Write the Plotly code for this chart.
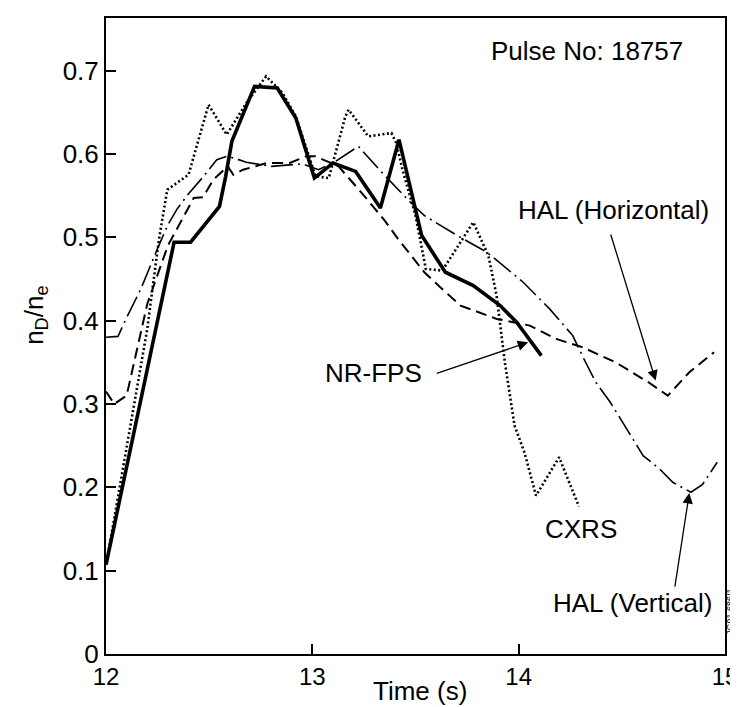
import plotly.graph_objects as go

# ---- data ----
t_nrfps = [12.0, 12.33, 12.41, 12.55, 12.58, 12.61, 12.72, 12.83, 12.92, 13.01, 13.10, 13.21, 13.33, 13.42, 13.53, 13.645, 13.78, 13.91, 13.99, 14.11]
v_nrfps = [0.107, 0.494, 0.494, 0.537, 0.573, 0.615, 0.681, 0.679, 0.643, 0.571, 0.589, 0.579, 0.535, 0.617, 0.502, 0.458, 0.442, 0.418, 0.398, 0.358]

t_cxrs = [12.01, 12.2, 12.257, 12.297, 12.40, 12.497, 12.585, 12.68, 12.776, 12.856, 12.92, 13.016, 13.08, 13.16, 13.176, 13.271, 13.383, 13.407, 13.437, 13.5, 13.55, 13.63, 13.78, 13.853, 13.893, 13.933, 13.98, 14.028, 14.084, 14.196, 14.292]
v_cxrs = [0.12, 0.39, 0.498, 0.557, 0.575, 0.659, 0.623, 0.661, 0.693, 0.673, 0.645, 0.573, 0.571, 0.645, 0.653, 0.621, 0.625, 0.613, 0.581, 0.526, 0.462, 0.46, 0.518, 0.478, 0.43, 0.35, 0.274, 0.242, 0.19, 0.236, 0.177]

t_halh = [12.0, 12.04, 12.1, 12.2, 12.3, 12.36, 12.425, 12.47, 12.52, 12.59, 12.617, 12.664, 12.78, 12.89, 12.97, 13.016, 13.127, 13.24, 13.351, 13.415, 13.543, 13.62, 13.718, 13.894, 14.054, 14.182, 14.31, 14.469, 14.629, 14.723, 14.827, 14.947]
v_halh = [0.315, 0.30, 0.31, 0.42, 0.49, 0.517, 0.547, 0.548, 0.569, 0.585, 0.575, 0.581, 0.589, 0.589, 0.597, 0.597, 0.585, 0.553, 0.52, 0.498, 0.458, 0.44, 0.418, 0.402, 0.394, 0.378, 0.368, 0.35, 0.326, 0.31, 0.338, 0.362]

t_halv = [12.0, 12.058, 12.097, 12.169, 12.249, 12.3, 12.345, 12.393, 12.473, 12.537, 12.585, 12.62, 12.68, 12.8, 12.95, 13.03, 13.1, 13.223, 13.351, 13.479, 13.543, 13.702, 13.846, 14.022, 14.15, 14.262, 14.316, 14.374, 14.444, 14.556, 14.603, 14.683, 14.747, 14.835, 14.89, 14.962]
v_halv = [0.38, 0.381, 0.402, 0.438, 0.486, 0.515, 0.534, 0.55, 0.573, 0.593, 0.597, 0.595, 0.59, 0.585, 0.588, 0.581, 0.589, 0.609, 0.574, 0.541, 0.526, 0.502, 0.482, 0.446, 0.414, 0.382, 0.354, 0.326, 0.302, 0.258, 0.238, 0.222, 0.206, 0.194, 0.203, 0.23]

y_ticks = [0, 0.1, 0.2, 0.3, 0.4, 0.5, 0.6, 0.7]
y_labels = ["0", "0.1", "0.2", "0.3", "0.4", "0.5", "0.6", "0.7"]
x_ticks = [12, 13, 14, 15]
x_labels = ["12", "13", "14", "15"]

FONT = "Liberation Sans, Arial, Helvetica, sans-serif"
W, H = 738, 707
ML, MR, MT, MB = 98, 14, 8, 61
PW, PH = W - ML - MR, H - MT - MB


def px(x, y):
    """pixel position -> paper fraction"""
    return (x - ML) / PW, (H - MB - y) / PH


fig = go.Figure()
fig.add_trace(go.Scatter(x=t_halv, y=v_halv, mode="lines", name="HAL (Vertical)",
                         line=dict(color="black", width=1.6, dash="22px,5px,2px,5px")))
fig.add_trace(go.Scatter(x=t_halh, y=v_halh, mode="lines", name="HAL (Horizontal)",
                         line=dict(color="black", width=2, dash="11px,6px")))
fig.add_trace(go.Scatter(x=t_cxrs, y=v_cxrs, mode="lines", name="CXRS",
                         line=dict(color="black", width=2.6, dash="2px,2.5px")))
fig.add_trace(go.Scatter(x=t_nrfps, y=v_nrfps, mode="lines", name="NR-FPS",
                         line=dict(color="black", width=3.6)))

labels = [
    (584, 41, "Pulse No: 18757"),
    (611, 201, "HAL (Horizontal)"),
    (369, 364, "NR-FPS"),
    (578, 521, "CXRS"),
    (630, 595, "HAL (Vertical)"),
    (416, 683, "Time (s)"),
]
for x0, y0, txt in labels:
    xp, yp = px(x0, y0)
    fig.add_annotation(x=xp, y=yp, xref="paper", yref="paper", text=txt, showarrow=False,
                       font=dict(family=FONT, size=26, color="black"),
                       xanchor="center", yanchor="middle")

xp, yp = px(26, 306)
fig.add_annotation(x=xp, y=yp, xref="paper", yref="paper",
                   text="n<sub>D</sub>/n<sub>e</sub>", textangle=-90, showarrow=False,
                   font=dict(family=FONT, size=26, color="black"), xanchor="center", yanchor="middle")
xp, yp = px(729, 603)
fig.add_annotation(x=xp, y=yp, xref="paper", yref="paper",
                   text="JG91.686/1", textangle=-90, showarrow=False,
                   font=dict(family=FONT, size=9, color="black"), xanchor="center", yanchor="middle")

# arrows: tail (data), tip (data)
arrows = [
    ((14.444, 0.505), (14.664, 0.328)),
    ((13.596, 0.336), (14.046, 0.374)),
    ((14.756, 0.079), (14.827, 0.193)),
]
for (tx, ty), (hx, hy) in arrows:
    fig.add_annotation(x=hx, y=hy, xref="x", yref="y", ax=tx, ay=ty, axref="x", ayref="y",
                       text="", showarrow=True, arrowhead=2, arrowsize=1.6, arrowwidth=1.3,
                       arrowcolor="black")

fig.update_xaxes(range=[12, 15], tickvals=x_ticks, ticktext=x_labels, ticks="inside", ticklen=10,
                 tickwidth=1.5, tickcolor="black", showline=True, linecolor="black", linewidth=2,
                 mirror=True, showgrid=False, zeroline=False, ticklabeloverflow="allow",
                 tickfont=dict(family=FONT, size=24, color="black"))
fig.update_yaxes(range=[0, 0.763], tickvals=y_ticks, ticktext=y_labels, ticks="inside", ticklen=10,
                 tickwidth=1.5, tickcolor="black", showline=True, linecolor="black", linewidth=2,
                 mirror=True, showgrid=False, zeroline=False, ticklabeloverflow="allow",
                 tickfont=dict(family=FONT, size=26, color="black"))

fig.update_layout(width=W, height=H, margin=dict(l=ML, r=MR, t=MT, b=MB),
                  paper_bgcolor="white", plot_bgcolor="white", showlegend=False)

fig.write_html("out.html")
